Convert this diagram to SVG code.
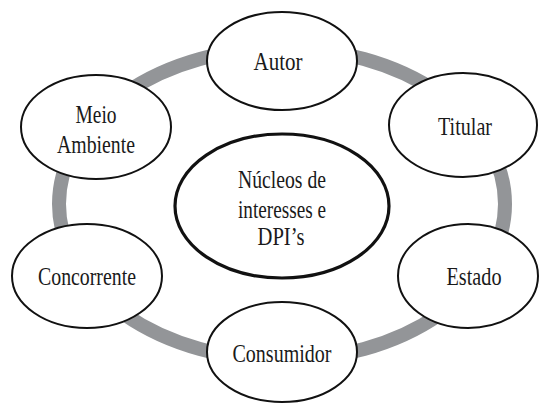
<svg xmlns="http://www.w3.org/2000/svg" width="540" height="403" viewBox="0 0 540 403">
<style>
.node{fill:#fff;stroke:#111;stroke-width:2}
.center{fill:#fff;stroke:#111;stroke-width:3.2}
.ring{fill:none;stroke:#939598;stroke-width:14}
text{font-family:"Liberation Serif","Times New Roman",serif;font-size:26px;fill:#1a1a1a;text-anchor:middle}
</style>
<rect width="540" height="403" fill="#fff"/>
<g id="connectors">
<ellipse class="ring" cx="282" cy="204" rx="223" ry="156"/>
</g>
<g id="autor">
<ellipse class="node" cx="282" cy="61" rx="75" ry="49"/>
<text x="278" y="70" textLength="49" lengthAdjust="spacingAndGlyphs">Autor</text>
</g>
<g id="titular">
<ellipse class="node" cx="463" cy="125" rx="74" ry="52"/>
<text x="465" y="135" textLength="54" lengthAdjust="spacingAndGlyphs">Titular</text>
</g>
<g id="meio-ambiente">
<ellipse class="node" cx="96" cy="127" rx="75" ry="52"/>
<text x="96" y="123" textLength="41" lengthAdjust="spacingAndGlyphs">Meio</text>
<text x="96" y="153" textLength="78" lengthAdjust="spacingAndGlyphs">Ambiente</text>
</g>
<g id="nucleos">
<ellipse class="center" cx="282" cy="206" rx="107" ry="72"/>
<text x="282" y="188" textLength="88" lengthAdjust="spacingAndGlyphs">Núcleos de</text>
<text x="282" y="218" textLength="88" lengthAdjust="spacingAndGlyphs">interesses e</text>
<text x="281" y="245" textLength="47" lengthAdjust="spacingAndGlyphs">DPI’s</text>
</g>
<g id="concorrente">
<ellipse class="node" cx="87" cy="276" rx="75" ry="52"/>
<text x="87" y="285" textLength="98" lengthAdjust="spacingAndGlyphs">Concorrente</text>
</g>
<g id="estado">
<ellipse class="node" cx="468" cy="276" rx="70" ry="52"/>
<text x="474" y="285" textLength="55" lengthAdjust="spacingAndGlyphs">Estado</text>
</g>
<g id="consumidor">
<ellipse class="node" cx="282" cy="352" rx="75" ry="50"/>
<text x="282" y="362" textLength="99" lengthAdjust="spacingAndGlyphs">Consumidor</text>
</g>
</svg>
